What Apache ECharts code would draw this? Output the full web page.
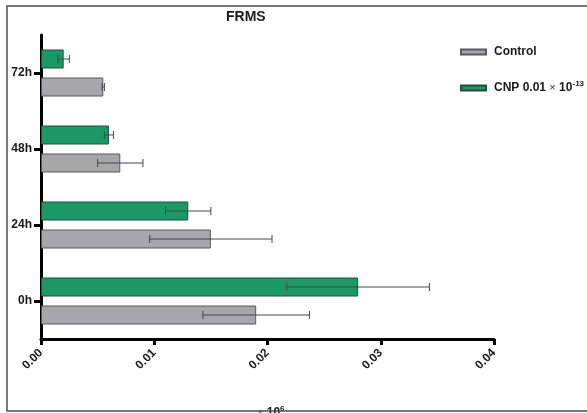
<!DOCTYPE html>
<html>
<head>
<meta charset="utf-8">
<script src="https://cdn.jsdelivr.net/npm/echarts@6/dist/echarts.min.js"></script>
<style>
  html, body { margin: 0; padding: 0; background: #fff; }
  #chart { width: 587px; height: 413px; }
</style>
</head>
<body>
<div id="chart"></div>
<script>
// FRMS readings (× 10^6) at each time point, mean and standard deviation
const timePoints = ['0h', '24h', '48h', '72h'];
const controlMean = [0.019, 0.015, 0.007, 0.0055];
const controlSD   = [0.0047, 0.0054, 0.002, 0.0001];
const cnpMean     = [0.028, 0.013, 0.006, 0.002];
const cnpSD       = [0.0063, 0.002, 0.0004, 0.0005];
const xTicks      = [0, 0.01, 0.02, 0.03, 0.04];

const BAR_W = 19;
const BAR_GAP = 9;
const GREEN = '#1a9866';
const GREY = '#a6a6ab';

const chart = echarts.init(document.getElementById('chart'), null, { renderer: 'canvas' });

// draws a horizontal error bar (mean ± sd) offset to sit on its bar
function errorBar(offsetPx) {
  return function (params, api) {
    const cat = api.value(0);
    const mean = api.value(1);
    const sd = api.value(2);
    const lo = api.coord([mean - sd, cat]);
    const hi = api.coord([mean + sd, cat]);
    const y = lo[1] + offsetPx;
    const cap = 4;
    const style = { stroke: '#464646', lineWidth: 1 };
    return {
      type: 'group',
      children: [
        { type: 'line', shape: { x1: lo[0], y1: y, x2: hi[0], y2: y }, style },
        { type: 'line', shape: { x1: lo[0], y1: y - cap, x2: lo[0], y2: y + cap }, style },
        { type: 'line', shape: { x1: hi[0], y1: y - cap, x2: hi[0], y2: y + cap }, style }
      ]
    };
  };
}

const half = (BAR_W + BAR_GAP) / 2;
const cnpErr = timePoints.map((t, i) => [i, cnpMean[i], cnpSD[i]]);
const ctlErr = timePoints.map((t, i) => [i, controlMean[i], controlSD[i]]);

const FONT = 'Liberation Sans, Arial, sans-serif';
const boldFont = { fontFamily: FONT, fontWeight: 'bold', color: '#1a1a1a' };

chart.setOption({
  animation: false,
  backgroundColor: '#fff',
  grid: { left: 41, top: 35, width: 453, height: 304, containLabel: false },
  legend: {
    data: ['Control', 'CNP'],
    orient: 'vertical',
    left: 455,
    top: 41,
    itemWidth: 25,
    itemHeight: 5,
    itemGap: 22,
    icon: 'rect',
    selectedMode: false,
    formatter: function (name) {
      return name === 'CNP' ? '{b|CNP 0.01} {x|×} {b|10}{s|-13}' : '{b|Control}';
    },
    textStyle: {
      padding: [0, 0, 0, 3],
      rich: {
        b: { fontFamily: FONT, fontWeight: 'bold', fontSize: 12, color: '#1a1a1a' },
        x: { fontFamily: FONT, fontSize: 11, color: '#333' },
        s: { fontFamily: FONT, fontWeight: 'bold', fontSize: 8, color: '#1a1a1a', verticalAlign: 'top', padding: [0, 0, 8, 0] }
      }
    }
  },
  xAxis: {
    type: 'value',
    min: xTicks[0],
    max: xTicks[xTicks.length - 1],
    interval: 0.01,
    splitLine: { show: false },
    axisLine: { show: true, lineStyle: { color: '#000', width: 3 } },
    axisTick: { show: true, length: 6, lineStyle: { color: '#000', width: 3 } },
    axisLabel: {
      rotate: 45,
      margin: 12,
      fontSize: 12,
      ...boldFont,
      formatter: v => v.toFixed(2)
    }
  },
  yAxis: {
    type: 'category',
    data: timePoints,
    axisLine: { show: true, lineStyle: { color: '#000', width: 3 } },
    axisTick: { show: true, alignWithLabel: true, length: 7, lineStyle: { color: '#000', width: 3 } },
    axisLabel: { margin: 9, fontSize: 12, ...boldFont }
  },
  series: [
    {
      name: 'CNP',
      type: 'bar',
      data: cnpMean,
      barWidth: BAR_W,
      barGap: (BAR_GAP / BAR_W * 100) + '%',
      itemStyle: { color: GREEN, borderColor: '#2b4a3c', borderWidth: 1 }
    },
    {
      name: 'Control',
      type: 'bar',
      data: controlMean,
      barWidth: BAR_W,
      itemStyle: { color: GREY, borderColor: '#5a5a5e', borderWidth: 1 }
    },
    {
      type: 'custom',
      data: cnpErr,
      encode: { x: 1, y: 0 },
      renderItem: errorBar(-half),
      z: 5
    },
    {
      type: 'custom',
      data: ctlErr,
      encode: { x: 1, y: 0 },
      renderItem: errorBar(half),
      z: 5
    }
  ],
  graphic: [
    {
      type: 'text', left: 226, top: 10,
      style: { text: 'FRMS', font: 'bold 14px "Liberation Sans", Arial, sans-serif', fill: '#1a1a1a', textAlign: 'center' }
    },
    {
      type: 'text', left: 257, top: 405,
      style: {
        text: '{x|×} {b|10}{s|6}',
        rich: {
          x: { fontFamily: FONT, fontSize: 11, fill: '#555' },
          b: { fontFamily: FONT, fontWeight: 'bold', fontSize: 12, fill: '#1a1a1a' },
          s: { fontFamily: FONT, fontWeight: 'bold', fontSize: 8, fill: '#1a1a1a', verticalAlign: 'top', padding: [0, 0, 8, 0] }
        }
      },
      z: 1
    },
    {
      type: 'rect', shape: { x: 7, y: 6, width: 620, height: 405 },
      style: { fill: null, stroke: '#4d4d4d', lineWidth: 1.5 },
      z: 10, silent: true
    }
  ]
});
</script>
</body>
</html>
